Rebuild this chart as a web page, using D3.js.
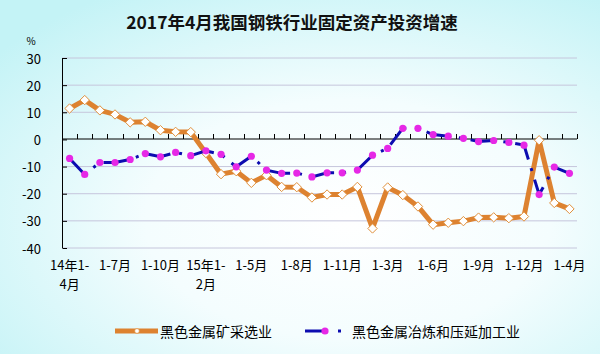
<!DOCTYPE html>
<html>
<head>
<meta charset="utf-8">
<script src="https://cdn.jsdelivr.net/npm/d3@7"></script>
<style>
  body { margin: 0; }
  svg { display: block; font-family: "Noto Sans CJK SC", sans-serif; }
</style>
</head>
<body>
<div id="chart"></div>
<script>
const xSize = 600; const ySize = 354;

// categories: cumulative months, 2014 1-4 .. 2017 1-4
const months = ["14年1-4月","1-5月","1-6月","1-7月","1-8月","1-9月","1-10月","1-11月","1-12月",
  "15年1-2月","1-3月","1-4月","1-5月","1-6月","1-7月","1-8月","1-9月","1-10月","1-11月","1-12月",
  "16年1-2月","1-3月","1-4月","1-5月","1-6月","1-7月","1-8月","1-9月","1-10月","1-11月","1-12月",
  "17年1-2月","1-3月","1-4月"];
// labels shown under the axis (every third month)
const shownLabels = ["14年1-4月","1-7月","1-10月","15年1-2月","1-5月","1-8月","1-11月","1-3月","1-6月","1-9月","1-12月","1-4月"];
const shownIndex = [0,3,6,9,12,15,18,21,24,27,30,33];
const yTicks = [30,20,10,0,-10,-20,-30,-40];

const seriesNames = ["黑色金属矿采选业","黑色金属冶炼和压延加工业"];
const mining = [11.4,14.5,10.7,9.2,6.3,6.5,3.4,2.8,2.7,-5.0,-12.8,-11.7,-16.0,-13.2,-17.5,-17.6,-21.4,-20.3,-20.3,-17.5,
  -32.8,-17.7,-20.5,-24.7,-31.4,-30.7,-30.1,-28.8,-28.7,-29.0,-28.4,-0.3,-23.4,-25.6];
const smelting = [-7.0,-12.9,-8.5,-8.5,-7.4,-5.2,-6.4,-4.8,-6.0,-4.2,-5.5,-10.1,-6.2,-11.3,-12.5,-12.4,-13.8,-12.3,-12.3,-11.3,
  -5.8,-3.3,4.1,4.1,1.8,1.2,0.4,-0.8,-0.4,-1.1,-2.1,-20.3,-10.2,-12.5];

const svg = d3.select("#chart").append("svg")
    .attr("width", xSize).attr("height", ySize);

// background gradient
const defs = svg.append("defs");
const grad = defs.append("radialGradient").attr("id","bg")
    .attr("cx","58%").attr("cy","62%").attr("r","75%");
grad.append("stop").attr("offset","0%").attr("stop-color","#ffffff");
grad.append("stop").attr("offset","45%").attr("stop-color","#f4fdfe");
grad.append("stop").attr("offset","100%").attr("stop-color","#c4f3f6");
svg.append("rect").attr("width", xSize).attr("height", ySize).attr("fill","url(#bg)");

const x = d3.scaleBand().domain(d3.range(months.length)).range([62, 577]);
const y = d3.scaleLinear().domain([-40, 30]).range([248, 58]);
const cx = i => x(i) + x.bandwidth()/2;

// title
svg.append("text").attr("x", 292).attr("y", 21)
    .attr("text-anchor","middle").attr("dominant-baseline","central")
    .attr("font-size", 17.5).attr("font-weight","bold").attr("fill","#111")
    .text("2017年4月我国钢铁行业固定资产投资增速");
svg.append("text").attr("x", 31).attr("y", 40)
    .attr("text-anchor","middle").attr("dominant-baseline","central")
    .attr("font-size", 10).text("%");

// gridlines
svg.append("g").selectAll("line").data(yTicks.filter(d => d != 0)).join("line")
    .attr("x1", 62).attr("x2", 577)
    .attr("y1", d => y(d)).attr("y2", d => y(d))
    .attr("stroke", "#c6c6dc").attr("stroke-width", 1);

// y axis
const yAxis = svg.append("g").attr("transform","translate(62,0)")
    .call(d3.axisRight(y).tickValues(yTicks).tickSize(5).tickFormat(""));
yAxis.select(".domain").attr("d", "M0.5," + y(30) + "V" + y(-40));
yAxis.selectAll(".tick line").attr("x1", 0.5);
svg.append("g").selectAll("text").data(yTicks).join("text")
    .attr("x", 41).attr("y", d => y(d))
    .attr("text-anchor","end").attr("dominant-baseline","central")
    .attr("font-size", 13).text(d => d);

// x axis along zero
const xAxisG = svg.append("g").attr("transform","translate(0," + Math.round(y(0)) + ")");
xAxisG.append("line").attr("x1", 62).attr("x2", 577).attr("stroke","#000");
xAxisG.selectAll(".tk").data(d3.range(1, months.length + 1)).join("line")
    .attr("class","tk")
    .attr("x1", d => Math.round(x(0) + d * x.bandwidth()) + 0.5)
    .attr("x2", d => Math.round(x(0) + d * x.bandwidth()) + 0.5)
    .attr("y1", 0).attr("y2", -5).attr("stroke","#000");

// category labels (year labels wrap onto a second line)
const labG = svg.append("g").attr("font-size", 13).attr("text-anchor","middle");
shownIndex.forEach((d, i) => {
    const t = shownLabels[i];
    const k = t.includes("年") ? t.indexOf("-") + 1 : t.length;
    labG.append("text").attr("x", cx(d)).attr("y", 264)
        .attr("dominant-baseline","central").text(t.slice(0, k));
    if (k < t.length) {
        labG.append("text").attr("x", cx(d)).attr("y", 283)
            .attr("dominant-baseline","central").text(t.slice(k));
    }
});

// mining series
const lineGen = d3.line().x((d, i) => cx(i)).y(d => y(d));
svg.append("path").datum(mining).attr("d", lineGen)
    .attr("fill","none").attr("stroke","#dd8230").attr("stroke-width", 5)
    .attr("stroke-linejoin","round");
const diamond = d3.symbol().type(d3.symbolDiamond2).size(56);
svg.append("g").selectAll("path").data(mining).join("path")
    .attr("transform", (d, i) => "translate(" + cx(i) + "," + y(d) + ")")
    .attr("d", diamond).attr("fill","#fff").attr("stroke","#e0903c").attr("stroke-width", 1);

// smelting series
svg.append("path").datum(smelting).attr("d", lineGen)
    .attr("fill","none").attr("stroke","#0c0cb0").attr("stroke-width", 3)
    .attr("stroke-dasharray","24,9,3,9");
svg.append("g").selectAll("circle").data(smelting).join("circle")
    .attr("cx", (d, i) => cx(i)).attr("cy", d => y(d)).attr("r", 3.6)
    .attr("fill","#e628e6");

// legend
const ly = 331;
const leg = svg.append("g");
leg.append("line").attr("x1", 115).attr("x2", 158).attr("y1", ly).attr("y2", ly)
    .attr("stroke","#dd8230").attr("stroke-width", 5);
leg.append("circle").attr("cx", 137).attr("cy", ly).attr("r", 2.4)
    .attr("fill","#fff").attr("stroke","#e0903c").attr("stroke-width", 0.8);
leg.append("text").attr("x", 160).attr("y", ly).attr("dominant-baseline","central")
    .attr("font-size", 14).text(seriesNames[0]);
leg.append("line").attr("x1", 305).attr("x2", 341).attr("y1", ly).attr("y2", ly)
    .attr("stroke","#0c0cb0").attr("stroke-width", 3).attr("stroke-dasharray","17,16,3");
leg.append("circle").attr("cx", 325).attr("cy", ly).attr("r", 3.6).attr("fill","#e628e6");
leg.append("text").attr("x", 352).attr("y", ly).attr("dominant-baseline","central")
    .attr("font-size", 14).text(seriesNames[1]);
</script>
</body>
</html>
